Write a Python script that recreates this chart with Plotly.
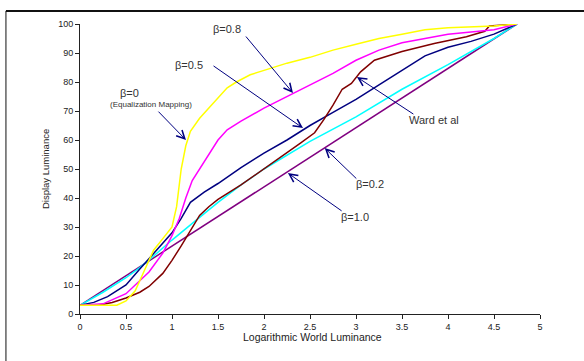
import plotly.graph_objects as go

# Logarithmic world luminance (x) vs display luminance (y)
x_yellow = [0, 0.2, 0.4, 0.5, 0.6, 0.7, 0.8, 0.9, 1.0, 1.05, 1.1, 1.15, 1.2, 1.3, 1.4, 1.5, 1.6, 1.7, 1.85, 2.0, 2.25, 2.5, 2.75, 3.0, 3.25, 3.5, 3.75, 4.0, 4.5, 4.75]
y_yellow = [3, 3, 3, 4.5, 8, 15, 22, 26, 30, 37, 50, 58, 63, 67.5, 71, 74.5, 78, 80, 82.5, 84, 86.5, 88.5, 91, 93, 95, 96.5, 98, 98.7, 99.3, 100]

x_magenta = [0, 0.25, 0.5, 0.75, 0.9, 1.0, 1.08, 1.15, 1.22, 1.3, 1.4, 1.5, 1.6, 1.75, 2.0, 2.25, 2.5, 2.75, 3.0, 3.25, 3.5, 4.0, 4.5, 4.75]
y_magenta = [3, 3.5, 7, 14.5, 21, 27, 33, 40, 46, 50, 55, 60, 63.5, 66.5, 71, 75, 79, 83, 87.5, 91, 93.5, 96.5, 98, 100]

x_navy = [0, 0.15, 0.3, 0.5, 0.65, 0.8, 1.0, 1.1, 1.2, 1.35, 1.5, 1.75, 2.0, 2.25, 2.5, 2.75, 3.0, 3.25, 3.5, 3.75, 4.0, 4.25, 4.5, 4.75]
y_navy = [3, 4, 6, 10, 15.5, 21, 28, 33, 38.5, 42, 45, 50.5, 55.5, 60, 65, 69.5, 74, 79, 84, 89, 92, 94, 96.5, 100]

x_cyan = [0, 0.25, 0.5, 0.65, 0.8, 1.0, 1.25, 1.5, 1.75, 2.0, 2.5, 3.0, 3.5, 4.0, 4.5, 4.75]
y_cyan = [3, 7.5, 12.5, 16, 20, 25.5, 32, 38.5, 44.5, 50, 59.5, 68, 77.5, 86, 95, 100]

x_purple = [0, 4.75]
y_purple = [3, 100]

x_brown = [0, 0.2, 0.35, 0.5, 0.65, 0.75, 0.9, 1.0, 1.1, 1.2, 1.3, 1.4, 1.5, 1.75, 2.0, 2.25, 2.4, 2.55, 2.65, 2.75, 2.85, 2.95, 3.05, 3.2, 3.5, 3.85, 4.2, 4.4, 4.45, 4.75]
y_brown = [3, 3, 4, 5.5, 7.5, 9.5, 14, 18.5, 23.5, 29, 34, 37, 39.5, 44.5, 50, 55.5, 59, 62.5, 67, 72, 77.5, 79.5, 83.5, 87.5, 90.5, 93.3, 95.6, 97.5, 99.3, 100]

x_ticks = [0, 0.5, 1, 1.5, 2, 2.5, 3, 3.5, 4, 4.5, 5]
y_ticks = [0, 10, 20, 30, 40, 50, 60, 70, 80, 90, 100]

# labels: (text, text x, text y, arrow tail x, tail y, tip x, tip y)
labels = [
    ("β=0.8", 1.60, 98.2, 1.79, 96.2, 2.315, 76.2),
    ("β=0.5", 1.19, 85.9, 1.435, 85.9, 2.424, 64.1),
    ("Ward et al", 3.85, 66.9, 3.64, 68.6, 3.01, 81.7),
    ("β=0.2", 3.15, 45.0, 3.02, 46.2, 2.66, 57.2),
    ("β=1.0", 2.99, 33.4, 2.86, 35.2, 2.26, 48.6),
]

FONT = "Arial, Liberation Sans, sans-serif"

fig = go.Figure()
series = [
    (x_purple, y_purple, "#800080"),
    (x_cyan, y_cyan, "#00FFFF"),
    (x_navy, y_navy, "#000080"),
    (x_brown, y_brown, "#800000"),
    (x_magenta, y_magenta, "#FF00FF"),
    (x_yellow, y_yellow, "#FFFF00"),
]
for xs, ys, c in series:
    fig.add_trace(go.Scatter(x=xs, y=ys, mode="lines", line=dict(color=c, width=1.5), showlegend=False, hoverinfo="skip"))

annotations = []
for text, tx, ty, ax, ay, hx, hy in labels:
    annotations.append(dict(x=hx, y=hy, ax=ax, ay=ay, xref="x", yref="y", axref="x", ayref="y",
                            showarrow=True, arrowhead=5, arrowsize=1.6, arrowwidth=1, arrowcolor="#000080", text=""))
    annotations.append(dict(x=tx, y=ty, xref="x", yref="y", text=text, showarrow=False,
                            xanchor="center", yanchor="middle",
                            font=dict(family=FONT, size=11, color="#333333")))
# beta=0 label with subtitle
annotations.append(dict(x=1.152, y=60.0, ax=0.837, ay=70.3, xref="x", yref="y", axref="x", ayref="y",
                        showarrow=True, arrowhead=5, arrowsize=1.6, arrowwidth=1, arrowcolor="#000080", text=""))
annotations.append(dict(x=0.543, y=76.2, xref="x", yref="y", text="β=0", showarrow=False,
                        xanchor="center", yanchor="middle",
                        font=dict(family=FONT, size=11, color="#333333")))
annotations.append(dict(x=0.77, y=72.4, xref="x", yref="y", text="(Equalization Mapping)", showarrow=False,
                        xanchor="center", yanchor="middle",
                        font=dict(family=FONT, size=8, color="#333333")))
# axis titles
annotations.append(dict(x=-0.076, y=0.5, xref="paper", yref="paper", text="Display Luminance", textangle=-90,
                        xanchor="center", yanchor="middle",
                        showarrow=False, font=dict(family=FONT, size=9.5, color="#222222")))
annotations.append(dict(x=0.5065, y=-0.078, xref="paper", yref="paper", text="Logarithmic World Luminance",
                        xanchor="center", yanchor="middle",
                        showarrow=False, font=dict(family=FONT, size=10.5, color="#222222")))

fig.update_layout(
    width=584, height=361,
    margin=dict(l=80, r=44, t=24, b=47),
    paper_bgcolor="white", plot_bgcolor="white",
    annotations=annotations,
    xaxis=dict(range=[0, 5], tickvals=x_ticks, ticktext=[str(v) for v in x_ticks], showgrid=False, zeroline=False,
               showline=True, linecolor="#222222", linewidth=1, ticks="outside", ticklen=4, tickcolor="#222222",
               tickfont=dict(family=FONT, size=9, color="#222222"), fixedrange=True),
    yaxis=dict(range=[0, 100], tickvals=y_ticks, showgrid=False, zeroline=False,
               showline=True, linecolor="#222222", linewidth=1, ticks="outside", ticklen=4, tickcolor="#222222",
               tickfont=dict(family=FONT, size=9, color="#222222"), fixedrange=True),
    shapes=[
        dict(type="line", xref="paper", yref="paper", x0=-0.161, x1=1.2, y0=1.0448, y1=1.0448,
             line=dict(color="#111111", width=2)),
        dict(type="line", xref="paper", yref="paper", x0=-0.161, x1=-0.161, y0=1.0448, y1=-0.2,
             line=dict(color="#111111", width=1)),
    ],
)

fig.write_html("out.html")
